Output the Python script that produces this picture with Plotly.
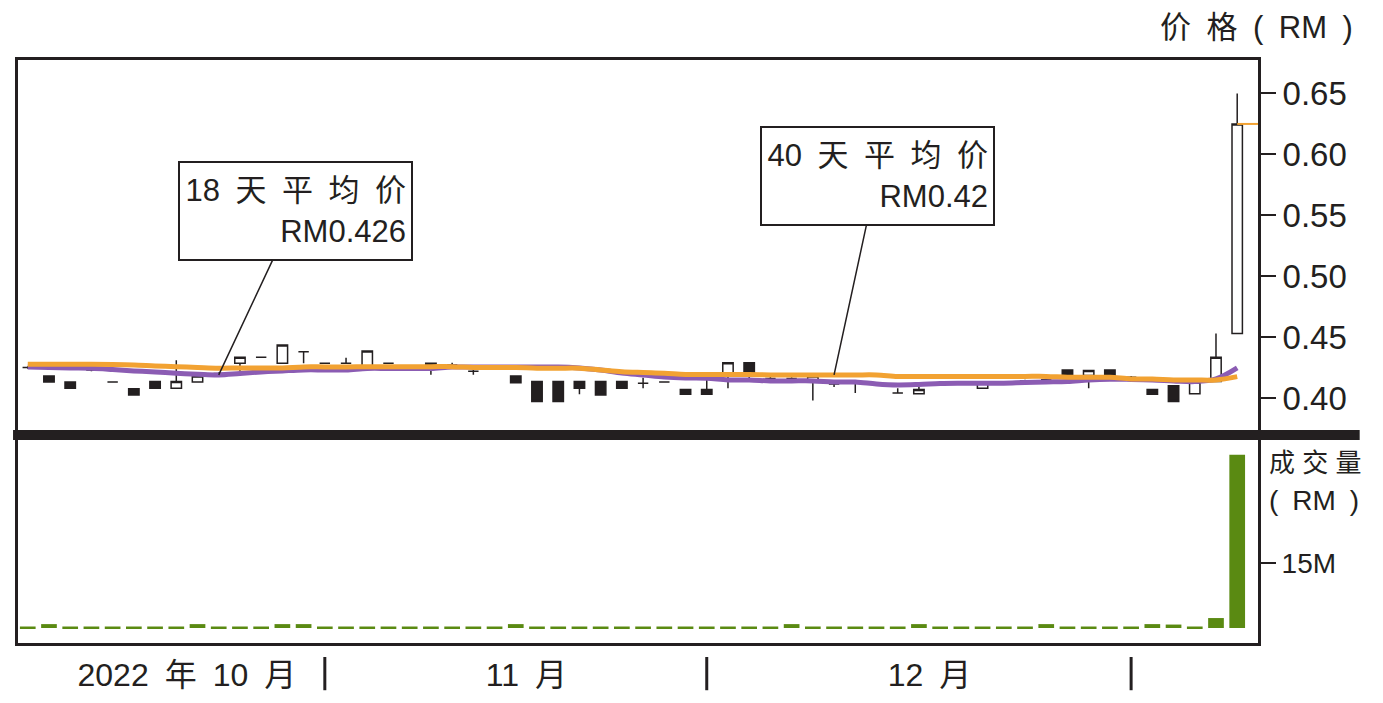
import plotly.graph_objects as go

# daily prices (RM), Oct 2022 - early Jan 2023
opens = [0.425, 0.418, 0.413, 0.423, 0.413, 0.4075, 0.4135, 0.408, 0.413, 0.42,
         0.4285, 0.4335, 0.4285, 0.438, 0.4285, 0.4285, 0.4265, 0.4285, 0.4245, 0.4265,
         0.427, 0.422, 0.425, 0.418, 0.4135, 0.4135, 0.4135, 0.4135, 0.4135, 0.412,
         0.413, 0.407, 0.407, 0.4185, 0.429, 0.416, 0.416, 0.4135, 0.4115, 0.413,
         0.412, 0.404, 0.4035, 0.411, 0.412, 0.408, 0.413, 0.414, 0.415, 0.423,
         0.4185, 0.423, 0.417, 0.407, 0.41, 0.4035, 0.4135, 0.453]
highs = [0.426, 0.418, 0.413, 0.424, 0.413, 0.4075, 0.4135, 0.431, 0.418, 0.421,
         0.4335, 0.4335, 0.4435, 0.438, 0.4285, 0.433, 0.4385, 0.4285, 0.4255, 0.4285,
         0.429, 0.4245, 0.426, 0.418, 0.4135, 0.4135, 0.4135, 0.4135, 0.4135, 0.4165,
         0.4135, 0.407, 0.4155, 0.429, 0.429, 0.4175, 0.417, 0.418, 0.4135, 0.414,
         0.413, 0.408, 0.4125, 0.412, 0.413, 0.412, 0.414, 0.415, 0.416, 0.423,
         0.4225, 0.423, 0.418, 0.407, 0.41, 0.413, 0.453, 0.65]
lows = [0.424, 0.413, 0.408, 0.422, 0.413, 0.4025, 0.408, 0.408, 0.413, 0.419,
        0.4205, 0.4335, 0.4285, 0.4285, 0.4285, 0.4285, 0.4265, 0.4285, 0.4235, 0.419,
        0.425, 0.419, 0.424, 0.4125, 0.397, 0.397, 0.403, 0.4025, 0.408, 0.408,
        0.4125, 0.403, 0.403, 0.408, 0.415, 0.4135, 0.415, 0.398, 0.409, 0.404,
        0.411, 0.404, 0.4035, 0.41, 0.411, 0.408, 0.412, 0.413, 0.414, 0.4185,
        0.408, 0.4185, 0.416, 0.403, 0.397, 0.4035, 0.4135, 0.453]
closes = [0.425, 0.413, 0.408, 0.423, 0.413, 0.4025, 0.408, 0.4135, 0.418, 0.42,
          0.4335, 0.4335, 0.4435, 0.438, 0.4285, 0.4285, 0.4385, 0.4285, 0.4245, 0.4285,
          0.427, 0.422, 0.425, 0.4125, 0.397, 0.397, 0.408, 0.4025, 0.408, 0.412,
          0.413, 0.403, 0.403, 0.429, 0.42, 0.416, 0.416, 0.418, 0.4115, 0.413,
          0.412, 0.404, 0.407, 0.411, 0.412, 0.412, 0.413, 0.414, 0.415, 0.4185,
          0.4225, 0.4185, 0.417, 0.403, 0.397, 0.413, 0.4335, 0.625]

# moving averages
ma18 = [0.4254, 0.425, 0.4246, 0.4244, 0.4234, 0.4222, 0.4213, 0.4203, 0.4195, 0.4189,
        0.4201, 0.4213, 0.4222, 0.423, 0.423, 0.423, 0.4242, 0.4242, 0.4242, 0.4242,
        0.4254, 0.4254, 0.4254, 0.4254, 0.4254, 0.4254, 0.4246, 0.423, 0.4205, 0.4189,
        0.4172, 0.4164, 0.4162, 0.4148, 0.4148, 0.414, 0.414, 0.414, 0.4131, 0.4131,
        0.4115, 0.4107, 0.4111, 0.4119, 0.4121, 0.4121, 0.4121, 0.4127, 0.4131, 0.4135,
        0.4148, 0.4154, 0.4152, 0.4148, 0.414, 0.4134, 0.4156, 0.4246]
ma40 = [0.4277, 0.4277, 0.4277, 0.4277, 0.4275, 0.4271, 0.4263, 0.4257, 0.425, 0.4244,
        0.4246, 0.4246, 0.4246, 0.4255, 0.4255, 0.4255, 0.4257, 0.4257, 0.4257, 0.4257,
        0.4257, 0.425, 0.425, 0.425, 0.4244, 0.4244, 0.4244, 0.423, 0.4216, 0.4209,
        0.4203, 0.4193, 0.4193, 0.4193, 0.4193, 0.4189, 0.4189, 0.4189, 0.4189, 0.4189,
        0.4189, 0.4177, 0.4177, 0.4177, 0.4177, 0.4177, 0.4177, 0.4177, 0.4177, 0.417,
        0.417, 0.417, 0.4156, 0.4156, 0.4148, 0.4148, 0.4148, 0.4175]

# traded value, million RM
volume = [0.35, 0.9, 0.35, 0.35, 0.35, 0.35, 0.35, 0.35, 0.9, 0.35,
          0.35, 0.35, 0.9, 0.9, 0.35, 0.35, 0.35, 0.35, 0.35, 0.35,
          0.35, 0.35, 0.35, 0.9, 0.35, 0.35, 0.35, 0.35, 0.35, 0.35,
          0.35, 0.35, 0.35, 0.35, 0.35, 0.35, 0.9, 0.35, 0.35, 0.35,
          0.35, 0.35, 0.9, 0.35, 0.35, 0.35, 0.35, 0.35, 0.9, 0.35,
          0.35, 0.35, 0.35, 0.9, 0.8, 0.35, 2.3, 40.0]

SP = "\u2002"
month_labels = [SP.join(["2022", "年", "10", "月"]), SP.join(["11", "月"]), SP.join(["12", "月"]), ""]
month_counts = [14, 18, 20, 6]

price_ticks = [0.40, 0.45, 0.50, 0.55, 0.60, 0.65]
volume_ticks = [15]
volume_ticktext = ["15M"]

FONT = "Liberation Sans, Arial, Noto Sans CJK SC, sans-serif"
INK = "#231f20"
ORANGE = "#f2a232"
PURPLE = "#8b5cb3"
GREEN = "#5a8a12"

n = len(closes)
x = list(range(n))
x_range = [-0.46, n - 1 + 0.98]

fig = go.Figure()

fig.add_trace(go.Candlestick(
    x=x, open=opens, high=highs, low=lows, close=closes,
    increasing=dict(line=dict(color=INK, width=1.5), fillcolor="white"),
    decreasing=dict(line=dict(color=INK, width=1.5), fillcolor=INK),
    whiskerwidth=0, showlegend=False, xaxis="x", yaxis="y",
))
fig.add_trace(go.Scatter(x=x, y=ma18, mode="lines", line=dict(color=PURPLE, width=5, shape="spline"),
                         showlegend=False, xaxis="x", yaxis="y"))
fig.add_trace(go.Scatter(x=x, y=ma40, mode="lines", line=dict(color=ORANGE, width=5, shape="spline"),
                         showlegend=False, xaxis="x", yaxis="y"))
fig.add_trace(go.Bar(x=x, y=volume, marker=dict(color=GREEN, line=dict(width=0)), width=0.74,
                     showlegend=False, xaxis="x2", yaxis="y2"))

# month ticks and separators
tickvals = []
bounds = []
start = 0
for c in month_counts:
    tickvals.append(start + c / 2 + 0.5)
    start += c
    bounds.append(start)

shapes = []
for b in bounds[:-1]:
    shapes.append(dict(type="line", xref="x2", yref="paper", x0=b, x1=b, y0=-0.024, y1=-0.081,
                       line=dict(color=INK, width=3)))
# thick divider between panels
shapes.append(dict(type="rect", xref="paper", yref="paper", x0=-0.004, x1=1.082, y0=0.3482, y1=0.3654,
                   fillcolor=INK, line=dict(width=0), layer="above"))
# last price marker
shapes.append(dict(type="line", xref="x", yref="y", x0=n - 1, x1=x_range[1], y0=closes[-1], y1=closes[-1],
                   line=dict(color=ORANGE, width=2)))

box_font = dict(size=31, color=INK, family=FONT)
annotations = [
    dict(x=9, y=ma18[9], xref="x", yref="y",
         text=SP.join(["18", "天", "平", "均", "价"]) + "<br>RM0.426",
         showarrow=True, arrowhead=0, arrowwidth=1.5, arrowcolor=INK, ax=77, ay=-164,
         align="right", width=221, height=86, bordercolor=INK, borderwidth=2, borderpad=5,
         bgcolor="white", font=box_font),
    dict(x=38, y=ma40[38], xref="x", yref="y",
         text=SP.join(["40", "天", "平", "均", "价"]) + "<br>RM0.42",
         showarrow=True, arrowhead=0, arrowwidth=1.5, arrowcolor=INK, ax=43, ay=-199,
         align="right", width=221, height=86, bordercolor=INK, borderwidth=2, borderpad=5,
         bgcolor="white", font=box_font),
    dict(x=1.078, y=1.0566, xref="paper", yref="paper", text=SP.join(["价", "格", "(", "RM", ")"]),
         showarrow=False, xanchor="right", yanchor="middle", font=dict(size=31, color=INK, family=FONT)),
    dict(x=1.007, y=0.309, xref="paper", yref="paper", text="成 交 量", showarrow=False,
         xanchor="left", yanchor="middle", font=dict(size=26, color=INK, family=FONT)),
    dict(x=1.007, y=0.245, xref="paper", yref="paper", text=SP.join(["(", "RM", ")"]), showarrow=False,
         xanchor="left", yanchor="middle", font=dict(size=28, color=INK, family=FONT)),
]

fig.update_layout(
    width=1383, height=703,
    margin=dict(l=7, r=133, t=52, b=68),
    paper_bgcolor="white", plot_bgcolor="white",
    font=dict(family=FONT, color=INK),
    shapes=shapes, annotations=annotations,
    xaxis=dict(domain=[0, 1], anchor="y", range=x_range, showticklabels=False, showgrid=False,
               zeroline=False, showline=True, mirror=True, linecolor=INK, linewidth=3,
               rangeslider=dict(visible=False), ticks=""),
    yaxis=dict(domain=[0.3654, 1], anchor="x", side="right", range=[0.3737, 0.6775],
               tickvals=price_ticks, tickformat=".2f", ticks="outside", ticklen=15, tickwidth=2,
               tickcolor=INK, tickfont=dict(size=33, color=INK), showgrid=False, zeroline=False,
               showline=True, mirror=True, linecolor=INK, linewidth=3),
    xaxis2=dict(domain=[0, 1], anchor="y2", matches="x", range=x_range, tickvals=tickvals,
                ticktext=month_labels[:len(tickvals)], ticks="", showgrid=False, zeroline=False,
                showline=True, mirror=True, linecolor=INK, linewidth=3,
                tickfont=dict(size=32, color=INK), ticklabelstandoff=2),
    yaxis2=dict(domain=[0, 0.3482], anchor="x2", side="right", range=[-3.46, 43.4],
                tickvals=volume_ticks, ticktext=volume_ticktext, ticks="outside", ticklen=15,
                tickwidth=2, tickcolor=INK, tickfont=dict(size=28, color=INK), showgrid=False,
                zeroline=False, showline=True, mirror=True, linecolor=INK, linewidth=3),
)

fig.write_html("out.html")
